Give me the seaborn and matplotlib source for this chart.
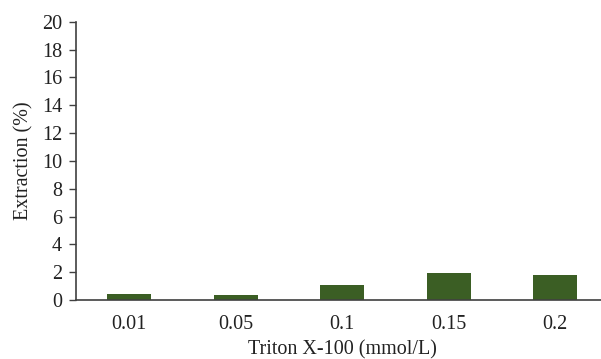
import matplotlib
matplotlib.use("Agg")
import matplotlib.pyplot as plt
import seaborn as sns
import pandas as pd
import numpy as np

categories = ["0.01", "0.05", "0.1", "0.15", "0.2"]
extraction = [0.45, 0.37, 1.08, 1.94, 1.80]
y_ticks = [0, 2, 4, 6, 8, 10, 12, 14, 16, 18, 20]

sns.set_style("white")
plt.rcParams['font.family'] = ['Liberation Serif', 'DejaVu Serif']

df = pd.DataFrame({"conc": categories, "ext": extraction})

fig = plt.figure(figsize=(6.01, 3.59), dpi=100)
ax = fig.add_axes([76/601, 59/359, 532.5/601, 278.3/359])

sns.barplot(data=df, x="conc", y="ext", color="#3b5e24", saturation=1,
            width=0.41, linewidth=0, ax=ax)

fs = 14.5
ax.set_ylim(0, 20)
ax.set_yticks(y_ticks)
ax.set_xlim(-0.5, len(categories) - 0.5)
ax.set_xticks(range(len(categories)))
ax.set_xticklabels(categories)
ax.set_xticks(np.arange(-0.5, len(categories), 1), minor=True)
ax.tick_params(axis='x', which='major', length=0, pad=11, labelsize=fs, colors='#222222')
ax.tick_params(axis='x', which='minor', length=5, width=1, color='#404040', direction='out')
ax.tick_params(axis='y', length=5, width=1, color='#404040', direction='out', pad=5,
               labelsize=fs, labelcolor='#222222', left=True)

for s in ['top', 'right']:
    ax.spines[s].set_visible(False)
for s in ['left', 'bottom']:
    ax.spines[s].set_color('#404040')
    ax.spines[s].set_linewidth(1.2)

ax.set_xlabel("Triton X-100 (mmol/L)", fontsize=fs, color='#222222', labelpad=4)
ax.set_ylabel("Extraction (%)", fontsize=fs, color='#222222', labelpad=6)

fig.savefig("out.png", dpi=100)
